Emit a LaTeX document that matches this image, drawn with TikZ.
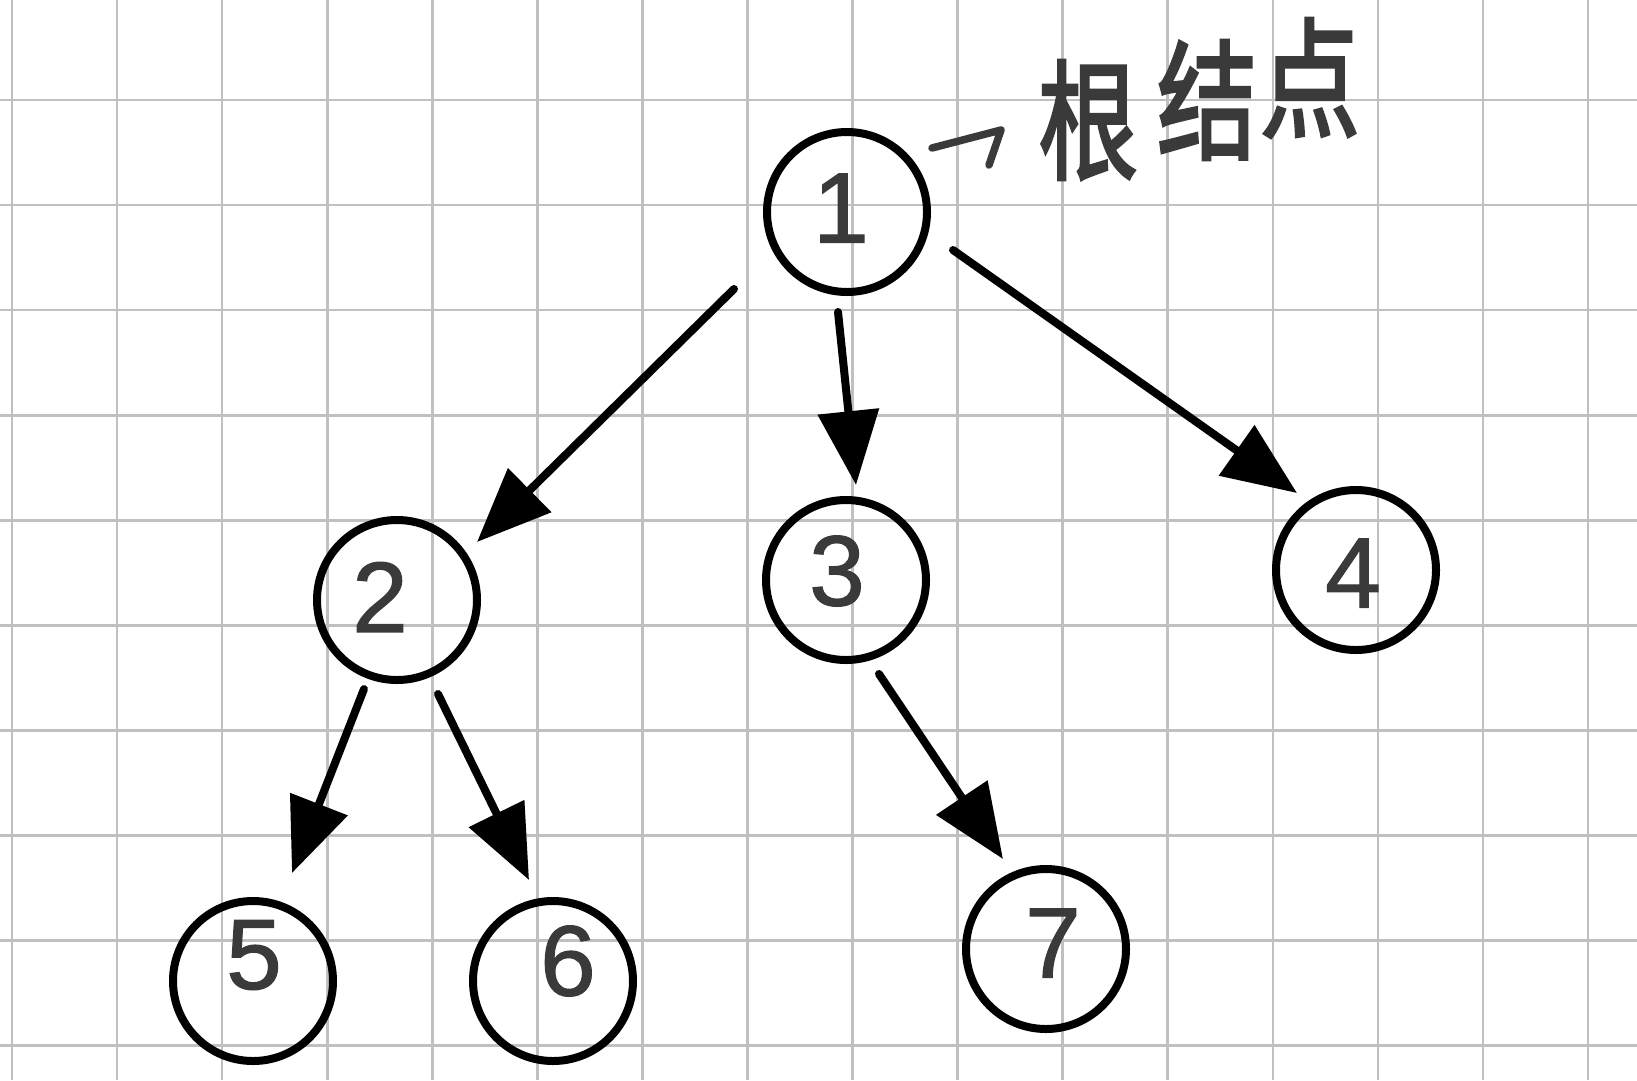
\documentclass[tikz,border=0pt]{standalone}
\usepackage{fontspec}
\setmainfont{Liberation Sans}
\newfontfamily\digitfont[FakeBold=1.2]{Liberation Sans}
\newfontfamily\cjkfont[FakeBold=2.5]{Noto Sans CJK SC}
\usetikzlibrary{arrows.meta}
\definecolor{ink}{HTML}{3A3A3A}
\definecolor{gridgrey}{HTML}{C0C0C0}
\begin{document}
\begin{tikzpicture}[x=1pt,y=-1pt,
  gridline/.style={draw=gridgrey, line width=2.6pt},
  treenode/.style={circle, draw=black, line width=8pt, minimum size=160pt, inner sep=0pt},
  digit/.style={text=ink, font=\digitfont\fontsize{100}{100}\selectfont, inner sep=0pt},
  edgearrow/.style={draw=black, line width=8pt, line cap=round, -{Triangle[length=74pt,width=60pt]}},
  hook/.style={draw=ink, line width=7.5pt, line cap=round, line join=round},
  cjklabel/.style={text=ink, font=\cjkfont\fontsize{100}{100}\selectfont, inner sep=0pt}]
\useasboundingbox (0,0) rectangle (1637,1080);
\fill[white] (0,0) rectangle (1637,1080);
\foreach \i in {0,...,15} \draw[gridline] ({12+105.07*\i},0) -- ({12+105.07*\i},1080);
\foreach \j in {0,...,9} \draw[gridline] (0,{100+105.07*\j}) -- (1637,{100+105.07*\j});

\node[treenode] (n1) at (847,212) {};
\node[treenode] (n2) at (397,600) {};
\node[treenode] (n3) at (846,580) {};
\node[treenode] (n4) at (1356,570) {};
\node[treenode] (n5) at (253,981) {};
\node[treenode] (n6) at (553,981) {};
\node[treenode] (n7) at (1046,949) {};

\node[digit] (d1) at (841,208) {1};
\node[digit] (d2) at (380,597) {2};
\node[digit] (d3) at (837,571) {3};
\node[digit] (d4) at (1353,573) {4};
\node[digit] (d5) at (254,955) {5};
\node[digit] (d6) at (568,961) {6};
\node[digit] (d7) at (1053,943) {7};

\draw[edgearrow] ([shift={(-113,77)}]n1.center) -- ([shift={(80,-58)}]n2.center);
\draw[edgearrow] ([shift={(-9,100)}]n1.center) -- ([shift={(10,-95)}]n3.center);
\draw[edgearrow] ([shift={(106,38)}]n1.center) -- ([shift={(-59,-77)}]n4.center);
\draw[edgearrow] ([shift={(-33,89)}]n2.center) -- ([shift={(39,-108)}]n5.center);
\draw[edgearrow] ([shift={(41,94)}]n2.center) -- ([shift={(-24,-101)}]n6.center);
\draw[edgearrow] ([shift={(33,94)}]n3.center) -- ([shift={(-43,-90)}]n7.center);

\coordinate (hk) at (932,148);
\draw[hook] (hk) -- ++(69,-18) -- ++(-12,35);
\node[cjklabel] (r1) at (1088,120) {\scalebox{1}[1.3]{根}};
\node[cjklabel] (r2) at (1207,100) {\scalebox{1}[1.3]{结}};
\node[cjklabel] (r3) at (1310,78) {\scalebox{1}[1.3]{点}};
\end{tikzpicture}
\end{document}
